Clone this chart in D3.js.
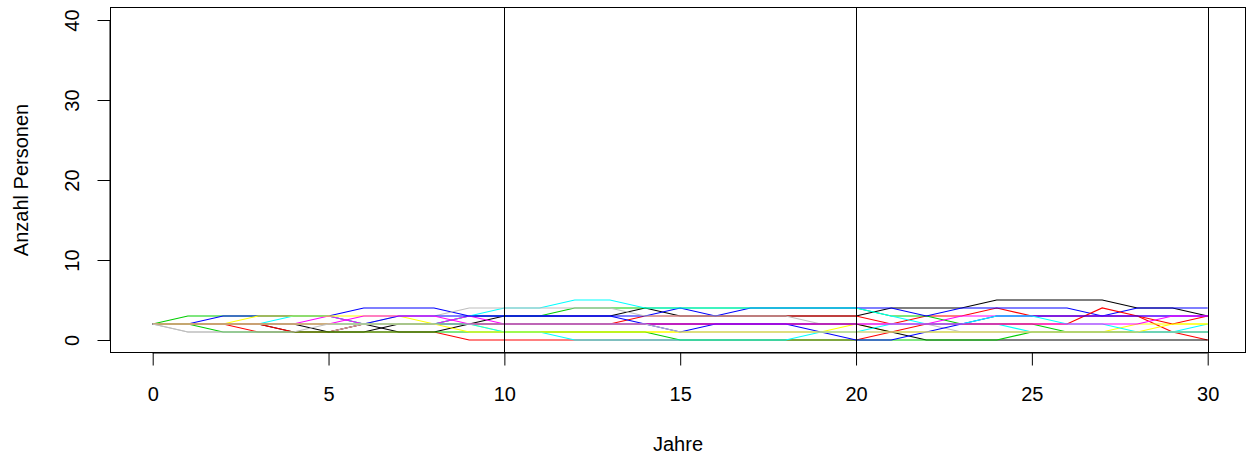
<!DOCTYPE html>
<html>
<head>
<meta charset="utf-8">
<script src="https://cdn.jsdelivr.net/npm/d3@7"></script>
<style>
	body { margin: 0; background: #fff; }
	text { font-family: "Liberation Sans", Arial, sans-serif; fill: #000; }
</style>
</head>
<body>
<div id="chart"></div>
<script>
// years 0..30
var years = d3.range(0, 31);

// simulated head counts, one array per run (drawn in this order)
var black1   = [2,2,2,2,1,1,2,1,1,2,3, 3,3,3,4,3,3,3,3,3,3, 4,4,4,5,5,5,5,4,4,3];
var red1     = [2,2,2,1,1,1,2,2,2,2,2, 2,2,2,3,3,3,3,3,3,3, 2,3,3,4,3,3,3,3,1,0];
var green1   = [2,3,3,3,3,3,2,2,2,3,3, 3,4,4,4,4,4,4,4,4,4, 3,3,2,2,2,1,1,1,1,1];
var blue1    = [2,2,3,3,3,3,4,4,4,3,3, 3,3,3,3,4,3,4,4,4,4, 4,3,4,4,4,4,3,4,4,4];
var cyan1    = [2,2,2,2,3,3,2,2,2,3,4, 4,5,5,4,4,4,4,4,4,4, 3,2,2,2,1,1,1,1,1,2];
var magenta1 = [2,2,2,2,2,3,2,2,2,3,2, 2,2,2,2,2,2,2,2,2,2, 2,2,3,3,3,3,3,3,3,3];
var yellow1  = [2,2,2,3,3,3,3,3,2,2,1, 1,1,1,1,1,1,1,1,1,2, 1,1,1,1,1,1,1,2,2,2];
var gray1    = [2,1,1,1,1,1,2,3,3,4,4, 4,4,4,3,3,3,3,3,2,2, 2,2,1,1,1,1,1,1,1,1];
var black2   = [2,2,2,2,2,1,1,2,2,2,2, 2,2,2,2,2,2,2,2,2,2, 1,0,0,0,0,0,0,0,0,0];
var red2     = [2,2,2,2,1,1,1,1,1,0,0, 0,0,0,0,0,0,0,0,0,0, 1,2,2,2,2,2,4,3,2,3];
var green2   = [2,2,1,1,1,1,1,1,1,1,1, 1,1,1,1,0,0,0,0,0,0, 0,0,0,0,1,1,1,1,1,1];
var blue2    = [2,2,2,2,2,2,2,3,3,3,3, 3,3,3,2,1,2,2,2,1,0, 0,1,2,3,3,3,3,3,3,3];
var cyan2    = [2,2,2,2,2,2,2,2,2,2,1, 1,0,0,0,0,0,0,0,1,1, 2,2,2,3,3,2,2,1,1,1];
var magenta2 = [2,2,2,2,2,2,3,3,3,2,2, 2,2,2,2,2,2,2,2,2,2, 2,2,2,2,2,2,2,2,3,3];
var yellow2  = [2,2,2,2,2,2,2,2,2,1,1, 1,1,1,1,1,1,1,1,1,1, 1,1,1,1,1,1,1,1,2,2];
var gray2    = [2,1,1,1,1,2,2,2,2,2,2, 2,2,2,2,1,1,1,1,1,1, 1,1,1,1,1,1,1,1,1,1];

var series = [black1, red1, green1, blue1, cyan1, magenta1, yellow1, gray1,
	black2, red2, green2, blue2, cyan2, magenta2, yellow2, gray2];
var palette = ['#000000', '#FF0000', '#00CD00', '#0000FF', '#00FFFF', '#FF00FF', '#FFFF00', '#BEBEBE'];

var xTicks = [0, 5, 10, 15, 20, 25, 30];
var yTicks = [0, 10, 20, 30, 40];
var vLines = [10, 20, 30];

var width = 1250, height = 460;
var fontSize = 20;
var box = {left: 110.5, right: 1245.5, top: 7.5, bottom: 352.5};

var x = d3.scaleLinear().domain([0, 30]).range([152.7, 1207.7]);
var y = d3.scaleLinear().domain([0, 40]).range([340, 20]);

var svg = d3.select('#chart').append('svg')
	.attr('width', width)
	.attr('height', height);

// series
var line = d3.line()
	.x(function(d, i) { return x(years[i]); })
	.y(function(d) { return y(d); });

svg.append('g')
	.selectAll('path')
	.data(series)
	.enter().append('path')
	.attr('d', line)
	.attr('fill', 'none')
	.attr('stroke', function(d, i) { return palette[i % palette.length]; })
	.attr('stroke-width', 1.2);

// vertical reference lines
svg.append('g')
	.selectAll('line')
	.data(vLines)
	.enter().append('line')
	.attr('x1', function(d) { return Math.round(x(d)) + 0.5; })
	.attr('x2', function(d) { return Math.round(x(d)) + 0.5; })
	.attr('y1', box.top)
	.attr('y2', box.bottom)
	.attr('stroke', '#000')
	.attr('stroke-width', 1);

// box
svg.append('rect')
	.attr('x', box.left)
	.attr('y', box.top)
	.attr('width', box.right - box.left)
	.attr('height', box.bottom - box.top)
	.attr('fill', 'none')
	.attr('stroke', '#000')
	.attr('stroke-width', 1);

// x axis
var xAxis = d3.axisBottom(x).tickValues(xTicks).tickSize(13).tickPadding(21)
	.tickFormat(d3.format('d'));
var gx = svg.append('g')
	.attr('transform', 'translate(0,' + box.bottom + ')')
	.call(xAxis);
gx.select('.domain').attr('d', 'M' + x(0) + ',0.5H' + x(30));
gx.selectAll('text').attr('font-size', fontSize).attr('font-family', '"Liberation Sans", Arial, sans-serif');

// y axis
var yAxis = d3.axisLeft(y).tickValues(yTicks).tickSize(13).tickPadding(0)
	.tickFormat(d3.format('d'));
var gy = svg.append('g')
	.attr('transform', 'translate(' + box.left + ',0)')
	.call(yAxis);
gy.select('.domain').attr('d', 'M-0.5,' + y(0) + 'V' + y(40));
gy.selectAll('text')
	.attr('font-size', fontSize)
	.attr('font-family', '"Liberation Sans", Arial, sans-serif')
	.attr('x', 0).attr('dy', 0)
	.attr('text-anchor', 'middle')
	.attr('transform', 'translate(-39,0) rotate(-90)')
	.attr('y', 0)
	.attr('dominant-baseline', 'central');

// axis titles
svg.append('text')
	.attr('x', (box.left + box.right) / 2)
	.attr('y', 451)
	.attr('text-anchor', 'middle')
	.attr('font-size', fontSize)
	.text('Jahre');

svg.append('text')
	.attr('transform', 'translate(28,' + (box.top + box.bottom) / 2 + ') rotate(-90)')
	.attr('text-anchor', 'middle')
	.attr('font-size', fontSize)
	.text('Anzahl Personen');
</script>
</body>
</html>
